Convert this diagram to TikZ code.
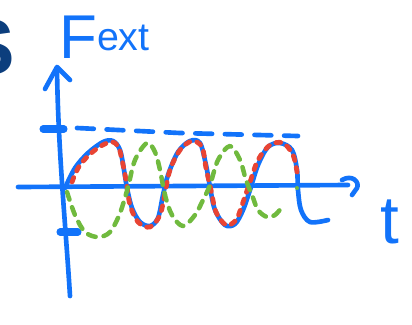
\documentclass[tikz,border=0pt]{standalone}
\usepackage{fontspec}
\setsansfont{Liberation Sans}
\usepackage{xcolor}
\usetikzlibrary{calc}

\definecolor{penblue}{RGB}{18,115,250}
\definecolor{penred}{RGB}{232,68,52}
\definecolor{pengreen}{RGB}{112,186,62}
\definecolor{titlenavy}{RGB}{12,62,125}

\begin{document}
\begin{tikzpicture}[x=0.025cm, y=-0.025cm, line cap=round, line join=round,
		pen/.style={draw=penblue, line width=3.3pt},
		reddots/.style={draw=penred, line width=3.4pt, dash pattern=on 0.12cm off 0.18cm},
		greendash/.style={draw=pengreen, line width=3.2pt, dash pattern=on 0.2cm off 0.2cm}]
		\useasboundingbox (0,0) rectangle (412,324);

		% cut-off heading letter
		\node[anchor=east, inner sep=0pt, text=titlenavy, font=\sffamily\bfseries\fontsize{56}{56}\selectfont] (heading) at (15,47) {S};

		% axes
		\draw[pen] (70,296) .. controls (66,230) and (58,150) .. (57,68);
		\draw[pen] (45,89) -- (57,67) -- (70,80);
		\draw[pen] (18,187) -- (348,185);
		\draw[pen] (342,180) .. controls (352,174) and (360,182) .. (357,188) .. controls (355,192) .. (352,195);
		\draw[pen, line width=5pt] (43,129) -- (64,129);
		\draw[pen, line width=5pt] (60,232) -- (78,232);
		\draw[pen, dash pattern=on 0.42cm off 0.32cm] (77,128) -- (180,133) -- (298,136);

		% labels
		\node[anchor=base west, inner sep=0pt, text=penblue, font=\sffamily\fontsize{44}{44}\selectfont] (fext) at (59,58) {F\raisebox{0.2cm}{\fontsize{28}{28}\selectfont ext}};
		\node[inner sep=0pt, text=penblue, font=\sffamily\fontsize{48}{48}\selectfont] (tlabel) at (390,222) {t};

		% response
		\draw[pen] plot[smooth, tension=0.55] coordinates {(65,188) (75,168) (88,153) (103,142) (113,141) (120,150) (124,170) (127,188) (132,208) (140,222) (150,226) (158,218) (163,195) (168,175) (178,152) (190,141) (200,143) (206,165) (210,187) (215,210) (225,225) (235,224) (243,210) (250,190) (258,165) (268,147) (280,143) (292,150) (297,170) (298,190) (301,210) (310,222) (328,220)};

		% driving force
		\draw[reddots] plot[smooth, tension=0.55] coordinates {(72,182) (80,165) (95,150) (110,142) (118,146) (122,160) (126,180) (130,205) (138,222) (150,227) (160,215) (165,193) (170,170) (180,150) (192,141) (202,147) (206,168) (211,190) (216,212) (226,225) (236,220) (242,205) (250,182) (258,160) (270,145) (283,143) (293,155) (297,172)};

		% out of phase
		\draw[greendash] plot[smooth, tension=0.55] coordinates {(67,192) (75,215) (85,232) (98,237) (110,232) (120,213) (128,187) (135,160) (147,143) (155,152) (160,170) (165,195) (172,215) (183,226) (195,215) (203,200) (210,185) (218,160) (230,146) (240,160) (246,180) (252,195) (258,210) (267,217) (275,215) (282,207)};
		\fill[pengreen] (297,188) circle (2);
	\end{tikzpicture}
\end{document}
